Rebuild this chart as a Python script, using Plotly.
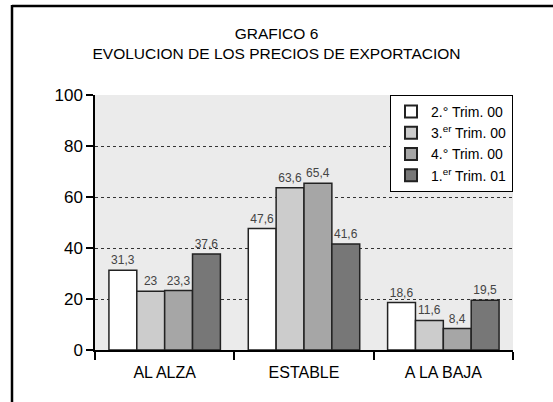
import plotly.graph_objects as go

categories = ["AL ALZA", "ESTABLE", "A LA BAJA"]
series_names = ["2.° Trim. 00", "3.<sup>er</sup> Trim. 00", "4.° Trim. 00", "1.<sup>er</sup> Trim. 01"]
values = [
    [31.3, 47.6, 18.6],
    [23.0, 63.6, 11.6],
    [23.3, 65.4, 8.4],
    [37.6, 41.6, 19.5],
]
colors = ["#FFFFFF", "#CCCCCC", "#A6A6A6", "#777777"]
y_ticks = [0, 20, 40, 60, 80, 100]

W, H = 553, 402
L, R, T, B = 95, 40, 95, 52
pw, ph = W - L - R, H - T - B

def fmt(v):
    s = ("%.1f" % v)
    if s.endswith(".0"):
        s = s[:-2]
    return s.replace(".", ",")

sans = "Liberation Sans, Arial, sans-serif"

fig = go.Figure()
for name, vals, col in zip(series_names, values, colors):
    fig.add_trace(go.Bar(
        x=categories, y=vals, name=name,
        marker=dict(color=col, line=dict(color="#222222", width=1.5)),
        text=[fmt(v) for v in vals], textposition="outside",
        textfont=dict(family=sans, size=12, color="#444444"),
        cliponaxis=False,
    ))

def px_x(px):
    return (px - L) / pw

def px_y(py):
    return (H - B - py) / ph

fig.update_layout(
    width=W, height=H,
    margin=dict(l=L, r=R, t=T, b=B),
    paper_bgcolor="white", plot_bgcolor="#EBEBEB",
    barmode="group", bargap=0.2, bargroupgap=0,
    font=dict(family=sans, color="black"),
    title=dict(text="GRAFICO 6<br>EVOLUCION DE LOS PRECIOS DE EXPORTACION",
               x=0.5, xref="container", xanchor="center",
               y=1 - 39 / H, yref="container", yanchor="top",
               font=dict(family=sans, size=15.5, color="black")),
    legend=dict(x=1, y=1, xanchor="right", yanchor="top",
                bgcolor="white", bordercolor="black", borderwidth=1,
                font=dict(family=sans, size=14),
                itemsizing="constant", tracegroupgap=0),
    xaxis=dict(type="category", tickson="boundaries", ticks="outside", ticklen=8,
               tickcolor="black", tickwidth=1.5, showline=True, linecolor="black",
               linewidth=2, showgrid=False, ticklabelstandoff=7,
               tickfont=dict(family=sans, size=16)),
    yaxis=dict(range=[0, 100], tickvals=y_ticks, ticks="outside", ticklen=7,
               tickcolor="black", tickwidth=1.5, showline=True, linecolor="black",
               linewidth=1.5, showgrid=True, gridcolor="#333333", griddash="dot",
               gridwidth=1, zeroline=False,
               tickfont=dict(family=sans, size=17)),
    shapes=[
        dict(type="line", xref="paper", yref="paper",
             x0=px_x(12), x1=px_x(W + 5), y0=px_y(6), y1=px_y(6),
             line=dict(color="black", width=2.5)),
        dict(type="line", xref="paper", yref="paper",
             x0=px_x(12), x1=px_x(12), y0=px_y(5), y1=px_y(H + 5),
             line=dict(color="black", width=2.5)),
    ],
)

fig.write_html("out.html", config={"displayModeBar": False},
               post_script="document.body.style.margin='0';")
